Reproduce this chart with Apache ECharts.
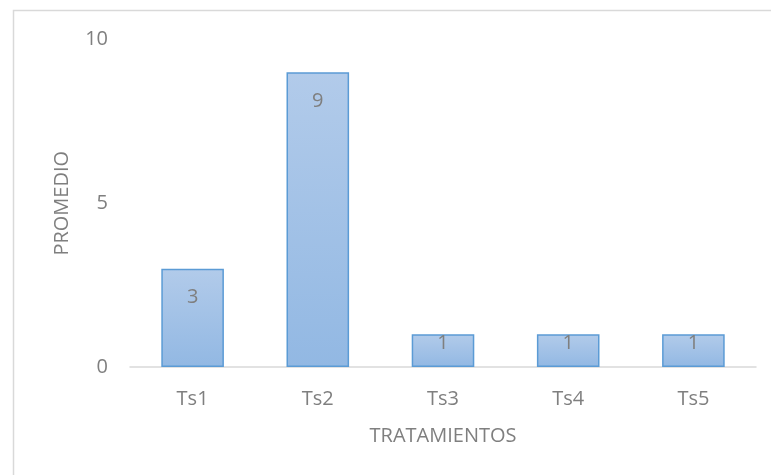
<!DOCTYPE html>
<html>
<head>
<meta charset="utf-8">
<script src="https://cdn.jsdelivr.net/npm/echarts@6/dist/echarts.min.js"></script>
<style>html,body{margin:0;padding:0;background:#fff;}#c{width:771px;height:475px;}</style>
</head>
<body>
<div id="c"></div>
<script>
var categories = ['Ts1', 'Ts2', 'Ts3', 'Ts4', 'Ts5'];
var values = [3, 9, 1, 1, 1];
var yTicks = [0, 5, 10];

var chart = echarts.init(document.getElementById('c'));
var font = '"Open Sans", "Liberation Sans", sans-serif';
var fs = 20;
chart.setOption({
  animation: false,
  backgroundColor: '#ffffff',
  graphic: [{
    type: 'rect',
    shape: { x: 13.5, y: 10.5, width: 800, height: 500 },
    style: { fill: 'none', stroke: '#d9d9d9', lineWidth: 1.5 },
    silent: true
  }],
  grid: { left: 130, right: 15, top: 39.5, bottom: 108 },
  xAxis: {
    type: 'category',
    data: categories,
    name: 'TRATAMIENTOS',
    nameLocation: 'middle',
    nameGap: 59,
    nameTextStyle: { color: '#7f7f7f', fontSize: fs, fontFamily: font },
    axisLine: { lineStyle: { color: '#d9d9d9', width: 1.5 } },
    axisTick: { show: false },
    axisLabel: { color: '#7f7f7f', fontSize: fs, fontFamily: font, margin: 22 }
  },
  yAxis: {
    type: 'value',
    min: 0, max: 10, interval: 5,
    name: 'PROMEDIO',
    nameLocation: 'middle',
    nameGap: 58,
    nameTextStyle: { color: '#7f7f7f', fontSize: fs, fontFamily: font },
    axisLine: { show: false },
    axisTick: { show: false },
    splitLine: { show: false },
    axisLabel: {
      color: '#7f7f7f', fontSize: fs, fontFamily: font, margin: 22,
      padding: [4, 0, 0, 0],
      formatter: function (v) { return yTicks.indexOf(v) >= 0 ? String(v) : ''; }
    }
  },
  series: [{
    type: 'bar',
    barWidth: '50%',
    data: values.map(function (v) {
      return v < 2 ? { value: v, label: { distance: -1 } } : { value: v };
    }),
    itemStyle: {
      color: new echarts.graphic.LinearGradient(0, 0, 0, 1, [
        { offset: 0, color: '#b2cbea' },
        { offset: 1, color: '#92b8e3' }
      ]),
      borderColor: '#5b9bd5',
      borderWidth: 1.5
    },
    label: {
      show: true,
      position: 'insideTop',
      distance: 19,
      color: '#7f7f7f',
      fontSize: fs,
      fontFamily: font
    }
  }]
});
</script>
</body>
</html>
